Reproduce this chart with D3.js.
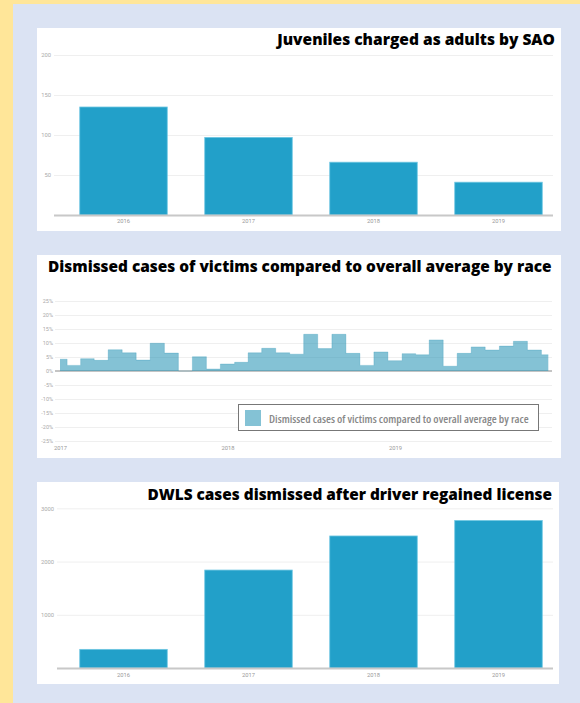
<!DOCTYPE html>
<html><head><meta charset="utf-8">
<script src="https://cdn.jsdelivr.net/npm/d3@7"></script>
<style>
html,body{margin:0;padding:0;background:#ffe699;}
svg{display:block;}
</style></head>
<body>
<svg id="c" width="580" height="703"></svg>
<script>
// ---- data ----
const juvTitle = "Juveniles charged as adults by SAO";
const juvYears = ["2016","2017","2018","2019"];
const juvValues = [135, 97, 66, 41];
const juvTicks = [50, 100, 150, 200];

const raceTitle = "Dismissed cases of victims compared to overall average by race";
const raceLegend = "Dismissed cases of victims compared to overall average by race";
const raceMonths = ["2017-01","2017-02","2017-03","2017-04","2017-05","2017-06","2017-07","2017-08","2017-09","2017-10","2017-11","2017-12",
  "2018-01","2018-02","2018-03","2018-04","2018-05","2018-06","2018-07","2018-08","2018-09","2018-10","2018-11","2018-12",
  "2019-01","2019-02","2019-03","2019-04","2019-05","2019-06","2019-07","2019-08","2019-09","2019-10","2019-11","2019-12"];
const raceValues = [4.2,2.0,4.4,3.8,7.6,6.5,3.9,9.9,6.4,0,5.1,0.7,
  2.5,3.1,6.5,8.1,6.5,6.0,13.1,8.0,13.1,6.3,2.0,6.8,
  3.7,6.2,5.8,11.1,1.7,6.3,8.6,7.5,8.9,10.6,7.5,5.8];
const racePctTicks = [-25,-20,-15,-10,-5,0,5,10,15,20,25];
const raceYearTicks = ["2017","2018","2019"];

const dwlsTitle = "DWLS cases dismissed after driver regained license";
const dwlsYears = ["2016","2017","2018","2019"];
const dwlsValues = [350, 1840, 2480, 2770];
const dwlsTicks = [1000, 2000, 3000];

// ---- drawing ----
const svg = d3.select("#c");
svg.append("rect").attr("x",0).attr("y",0).attr("width",580).attr("height",703).attr("fill","#ffe699");
svg.append("rect").attr("x",13).attr("y",4).attr("width",567).attr("height",699).attr("fill","#dbe3f3");

const BAR = "#22a0c9", BAR_EDGE = "#6ec6e2";
const TICK_FONT = "Roboto, 'Liberation Sans', sans-serif";

function fitTitle(t, target){
  let fs = 16;
  t.attr("font-size", fs);
  const w = t.node().getComputedTextLength();
  t.attr("font-size", fs * target / w);
}

function barChart(cfg){
  const g = svg.append("g");
  g.append("rect").attr("x",cfg.card[0]).attr("y",cfg.card[1]).attr("width",cfg.card[2]).attr("height",cfg.card[3]).attr("fill","#fff");
  const y = d3.scaleLinear().domain([0, cfg.max]).range([cfg.y0, cfg.yTop]);
  const x = d3.scaleBand().domain(cfg.cats).range([61, 561]).paddingInner(0.3).paddingOuter(0.15);
  const ax = g.append("g").attr("transform",`translate(${cfg.gx0},0)`)
    .call(d3.axisLeft(y).tickValues(cfg.ticks).tickSize(-(553-cfg.gx0)).tickPadding(3).tickFormat(d3.format("d")));
  ax.select(".domain").remove();
  ax.selectAll(".tick line").attr("stroke","#efefef").attr("stroke-width",1);
  ax.selectAll(".tick text").attr("fill","#aaa").attr("font-size",5.8).attr("font-family",TICK_FONT);
  g.selectAll(".bar").data(cfg.values).join("rect")
    .attr("x",(d,i)=>x(cfg.cats[i])).attr("width",x.bandwidth())
    .attr("y",d=>y(d)).attr("height",d=>cfg.y0 - y(d))
    .attr("fill",BAR).attr("stroke",BAR_EDGE).attr("stroke-width",0.8);
  g.append("line").attr("x1",cfg.gx0).attr("x2",553).attr("y1",cfg.y0+0.5).attr("y2",cfg.y0+0.5)
    .attr("stroke","#c8c8c8").attr("stroke-width",2);
  const xa = g.append("g").attr("transform",`translate(0,${cfg.y0})`)
    .call(d3.axisBottom(x).tickSize(0).tickPadding(cfg.labPad));
  xa.select(".domain").remove();
  xa.selectAll(".tick text").attr("fill","#999").attr("font-size",5.8).attr("font-family",TICK_FONT);
  const t = g.append("text").attr("x",cfg.titleX).attr("y",cfg.titleY).attr("text-anchor","end")
    .attr("font-family","'Open Sans', sans-serif").attr("font-weight",800).attr("fill","#000").text(cfg.title);
  fitTitle(t, cfg.titleW);
}

barChart({card:[37,28,524,203], cats:juvYears, values:juvValues, max:200, ticks:juvTicks,
  y0:215, yTop:55, gx0:54, labPad:4, title:juvTitle, titleX:555, titleY:45, titleW:278});

barChart({card:[37,482,522,202], cats:dwlsYears, values:dwlsValues, max:3000, ticks:dwlsTicks,
  y0:668, yTop:508.3, gx0:57, labPad:5, title:dwlsTitle, titleX:552, titleY:499.5, titleW:405});

// ---- middle chart ----
(function(){
  const g = svg.append("g");
  g.append("rect").attr("x",37).attr("y",255).attr("width",524).attr("height",203).attr("fill","#fff");
  const parse = d3.timeParse("%Y-%m");
  const data = raceMonths.map((m,i)=>({d:parse(m), v:raceValues[i]}));
  const x = d3.scaleTime().domain([parse(raceMonths[0]), parse(raceMonths[raceMonths.length-1])]).range([60, 548.3]);
  const y = d3.scaleLinear().domain([-25,25]).range([441,301]);
  const ax = g.append("g").attr("transform","translate(55,0)")
    .call(d3.axisLeft(y).tickValues(racePctTicks).tickSize(-(552-55)).tickPadding(2).tickFormat(d=>d+"%"));
  ax.select(".domain").remove();
  ax.selectAll(".tick line").attr("stroke","#efefef").attr("stroke-width",1);
  ax.selectAll(".tick text").attr("fill","#aaa").attr("font-size",5.5).attr("font-family",TICK_FONT);
  g.append("line").attr("x1",55).attr("x2",552).attr("y1",y(0)).attr("y2",y(0)).attr("stroke","#c4c4c4").attr("stroke-width",2);
  const area = d3.area().curve(d3.curveStep).x(d=>x(d.d)).y0(y(0)).y1(d=>y(d.v));
  g.append("path").datum(data).attr("d",area).attr("fill","#1f8fb3").attr("fill-opacity",0.55);
  const line = d3.line().curve(d3.curveStep).x(d=>x(d.d)).y(d=>y(d.v));
  g.append("path").datum(data).attr("d",line).attr("fill","none").attr("stroke","#1f8fb3").attr("stroke-opacity",0.25).attr("stroke-width",1);
  const xa = g.append("g").attr("transform","translate(0,441)")
    .call(d3.axisBottom(x).tickValues(raceYearTicks.map(s=>d3.timeParse("%Y")(s))).tickSize(0).tickPadding(5).tickFormat(d3.timeFormat("%Y")));
  xa.select(".domain").remove();
  xa.selectAll(".tick text").attr("fill","#999").attr("font-size",5.8).attr("font-family",TICK_FONT);
  // legend
  g.append("rect").attr("x",238.5).attr("y",404.5).attr("width",300).attr("height",26).attr("fill","#fff").attr("stroke","#777").attr("stroke-width",1);
  g.append("rect").attr("x",245).attr("y",410).attr("width",16).attr("height",16).attr("fill","#1f8fb3").attr("fill-opacity",0.55);
  const lt = g.append("text").attr("x",269).attr("y",422.5).attr("fill","#888").attr("font-weight",600)
    .style("font-stretch","75%")
    .attr("font-family","'Open Sans', 'DejaVu Sans Condensed', sans-serif").text(raceLegend);
  fitTitle(lt, 260);
  const t = g.append("text").attr("x",48).attr("y",271.5).attr("text-anchor","start")
    .attr("font-family","'Open Sans', sans-serif").attr("font-weight",800).attr("fill","#000").text(raceTitle);
  fitTitle(t, 504);
})();
</script>
</body></html>
